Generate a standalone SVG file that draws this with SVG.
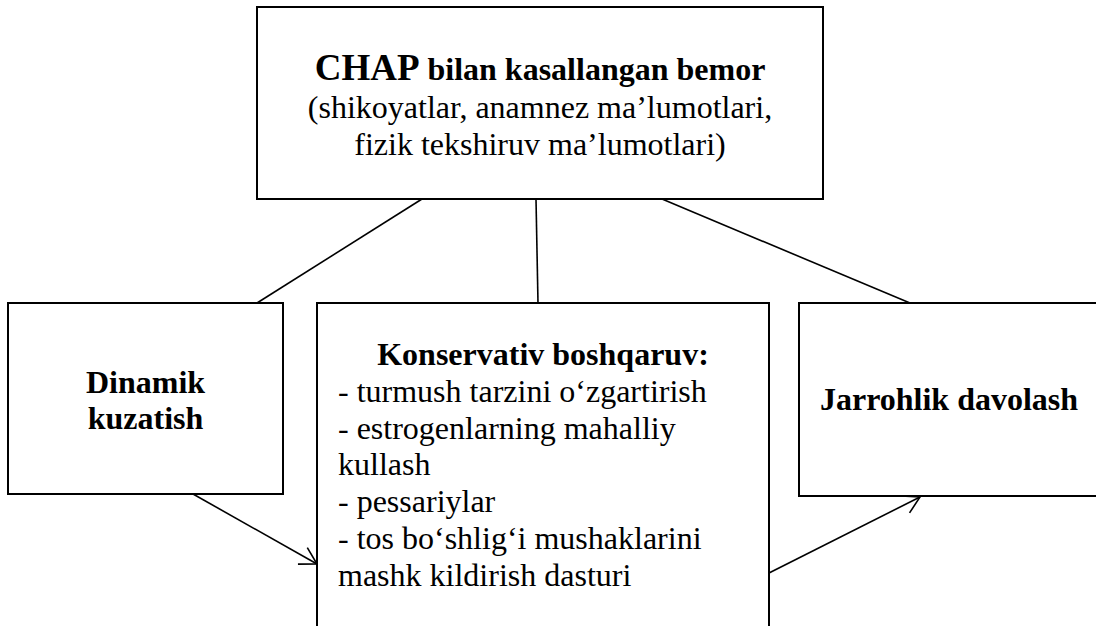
<svg xmlns="http://www.w3.org/2000/svg" width="1096" height="626" viewBox="0 0 1096 626">
  <style>
    .box { fill: #ffffff; stroke: #000000; stroke-width: 2; }
    .conn { fill: none; stroke: #000000; stroke-width: 1.6; }
    .t { font-family: "Liberation Serif", "Times New Roman", serif; font-size: 32px; fill: #000000; }
    .b { font-weight: bold; }
  </style>
  <defs>
    <marker id="arr" markerUnits="userSpaceOnUse" viewBox="0 0 22 22" refX="19" refY="11" markerWidth="22" markerHeight="22" orient="auto">
      <path d="M2.5,1.5 L19,11 L2.5,20.5" fill="none" stroke="#000000" stroke-width="1.6"/>
    </marker>
  </defs>
  <rect width="1096" height="626" fill="#ffffff"/>

  <g id="connectors">
    <line class="conn" x1="422" y1="199" x2="257" y2="303"/>
    <line class="conn" x1="536" y1="199" x2="538" y2="303"/>
    <line class="conn" x1="662" y1="199" x2="910" y2="303"/>
    <line class="conn" x1="193" y1="494" x2="317" y2="564" marker-end="url(#arr)"/>
    <line class="conn" x1="769" y1="573" x2="920" y2="497" marker-end="url(#arr)"/>
  </g>

  <g id="node-top">
    <rect class="box" x="257" y="7" width="566" height="192"/>
    <text class="t b" x="540" y="80" text-anchor="middle"><tspan font-size="37">CHAP</tspan> bilan kasallangan bemor</text>
    <text class="t" x="540" y="118" text-anchor="middle">(shikoyatlar, anamnez ma’lumotlari,</text>
    <text class="t" x="540" y="155" text-anchor="middle">fizik tekshiruv ma’lumotlari)</text>
  </g>

  <g id="node-left">
    <rect class="box" x="8" y="303" width="275" height="191"/>
    <text class="t b" x="145.5" y="393" text-anchor="middle">Dinamik</text>
    <text class="t b" x="145.5" y="429" text-anchor="middle">kuzatish</text>
  </g>

  <g id="node-center">
    <rect class="box" x="317" y="303" width="452" height="330"/>
    <text class="t b" x="543" y="365" text-anchor="middle">Konservativ boshqaruv:</text>
    <text class="t" x="338" y="401.8">- turmush tarzini o‘zgartirish</text>
    <text class="t" x="338" y="438.6">- estrogenlarning mahalliy</text>
    <text class="t" x="338" y="475.4">kullash</text>
    <text class="t" x="338" y="512.2">- pessariylar</text>
    <text class="t" x="338" y="549">- tos bo‘shlig‘i mushaklarini</text>
    <text class="t" x="338" y="585.8">mashk kildirish dasturi</text>
  </g>

  <g id="node-right">
    <rect class="box" x="799" y="303" width="300" height="193"/>
    <text class="t b" x="949" y="410" text-anchor="middle">Jarrohlik davolash</text>
  </g>
</svg>
